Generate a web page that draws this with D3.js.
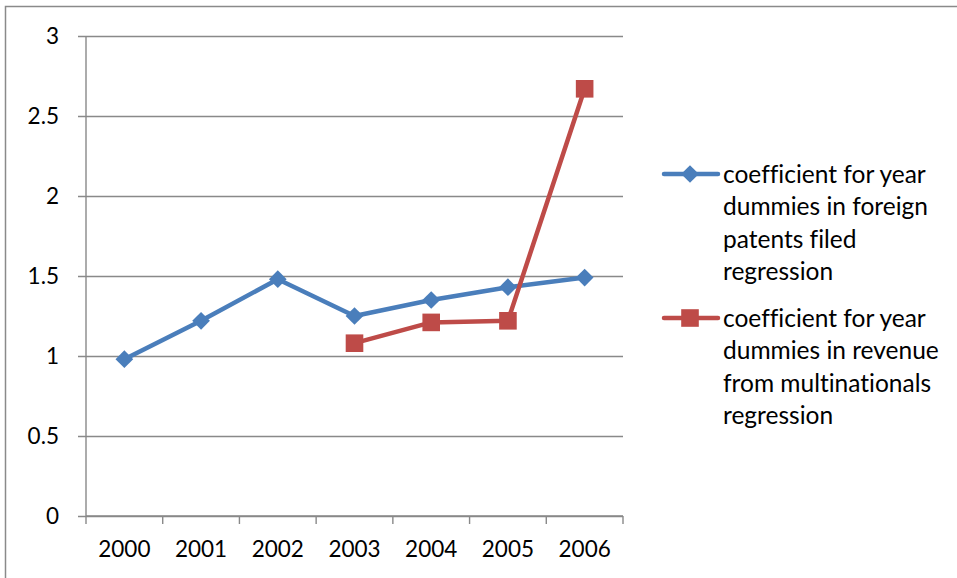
<!DOCTYPE html>
<html>
<head>
<meta charset="utf-8">
<script src="https://cdn.jsdelivr.net/npm/d3@7"></script>
<style>
  html, body { margin: 0; padding: 0; background: #fff; }
  svg { display: block; }
  text { font-family: Lato, "Open Sans", sans-serif; fill: #000; font-variant-ligatures: none; }
</style>
</head>
<body>
<svg id="chart" width="957" height="578"></svg>
<script>
// Year categories on the x axis
const years = ["2000", "2001", "2002", "2003", "2004", "2005", "2006"];
// Coefficients for year dummies, foreign patents filed regression
const patentsCoef = [0.98, 1.22, 1.48, 1.25, 1.35, 1.43, 1.49];
// Coefficients for year dummies, revenue from multinationals regression (starts 2003)
const revenueCoef = [null, null, null, 1.08, 1.21, 1.22, 2.67];
// Y axis ticks
const yTicks = [0, 0.5, 1, 1.5, 2, 2.5, 3];
// Legend labels, wrapped the way they are shown
const seriesNames = [
  ["coefficient for year", "dummies in foreign", "patents filed", "regression"],
  ["coefficient for year", "dummies in revenue", "from multinationals", "regression"]
];

const svg = d3.select("#chart");
const plot = { left: 86, right: 623, top: 36, bottom: 516 };
const gridColor = "#898989";
const blue = "#4a7ebb";
const red = "#be4b48";

// Outer chart frame (top and left edges visible)
svg.append("path")
  .attr("d", `M5.5,578 V6.5 H957`)
  .attr("fill", "none")
  .attr("stroke", "#8a8a8a")
  .attr("stroke-width", 1.5);

const x = d3.scaleBand().domain(years).range([plot.left, plot.right]).padding(0);
const y = d3.scaleLinear().domain([0, 3]).range([plot.bottom, plot.top]);

// Horizontal gridlines and y axis
const yAxis = d3.axisLeft(y)
  .tickValues(yTicks)
  .tickSize(-(plot.right - plot.left))
  .tickPadding(18)
  .tickFormat(d => String(d));
const gy = svg.append("g")
  .attr("transform", `translate(${plot.left},0)`)
  .call(yAxis);
gy.select(".domain").remove();
gy.selectAll(".tick line")
  .attr("x1", -8)
  .attr("stroke", gridColor)
  .attr("stroke-width", 1.4);
gy.selectAll(".tick text")
  .attr("x", -27)
  .attr("dy", "0.34em")
  .style("font-size", "22.5px")
  .style("font-family", "Lato, 'Open Sans', sans-serif")
  .attr("fill", "#000");

// Vertical axis line
svg.append("line")
  .attr("x1", plot.left).attr("x2", plot.left)
  .attr("y1", plot.top).attr("y2", plot.bottom)
  .attr("stroke", gridColor).attr("stroke-width", 1.4);

// X axis with ticks between categories
const gx = svg.append("g")
  .attr("transform", `translate(0,${plot.bottom})`);
gx.append("line")
  .attr("x1", plot.left).attr("x2", plot.right)
  .attr("stroke", gridColor).attr("stroke-width", 1.4);
const boundaries = years.map(d => x(d)).concat([x(years[years.length - 1]) + x.bandwidth()]);
gx.selectAll(".xtick")
  .data(boundaries)
  .join("line")
  .attr("class", "xtick")
  .attr("x1", d => d).attr("x2", d => d)
  .attr("y1", 0).attr("y2", 8)
  .attr("stroke", gridColor).attr("stroke-width", 1.4);
gx.selectAll(".xlabel")
  .data(years)
  .join("text")
  .attr("class", "xlabel")
  .attr("x", d => x(d) + x.bandwidth() / 2)
  .attr("y", 41)
  .attr("text-anchor", "middle")
  .style("font-size", "22.5px")
  .text(d => d);

const cx = (d, i) => x(years[i]) + x.bandwidth() / 2;

// Series lines
const line = d3.line()
  .defined(d => d != null)
  .x((d, i) => cx(d, i))
  .y(d => y(d));

svg.append("path")
  .datum(patentsCoef)
  .attr("d", line)
  .attr("fill", "none")
  .attr("stroke", blue)
  .attr("stroke-width", 4.5)
  .attr("stroke-linejoin", "round")
  .attr("stroke-linecap", "round");

svg.append("path")
  .datum(revenueCoef)
  .attr("d", line)
  .attr("fill", "none")
  .attr("stroke", red)
  .attr("stroke-width", 4.5)
  .attr("stroke-linejoin", "round")
  .attr("stroke-linecap", "round");

const diamond = d3.symbol().type(d3.symbolDiamond2).size(200);
const square = d3.symbol().type(d3.symbolSquare).size(310);

svg.selectAll(".pt-blue")
  .data(patentsCoef.map((v, i) => ({ v, i })).filter(d => d.v != null))
  .join("path")
  .attr("class", "pt-blue")
  .attr("d", diamond)
  .attr("transform", d => `translate(${cx(d.v, d.i)},${y(d.v)})`)
  .attr("fill", blue);

svg.selectAll(".pt-red")
  .data(revenueCoef.map((v, i) => ({ v, i })).filter(d => d.v != null))
  .join("path")
  .attr("class", "pt-red")
  .attr("d", square)
  .attr("transform", d => `translate(${cx(d.v, d.i)},${y(d.v)})`)
  .attr("fill", red);

// Legend
const legend = svg.append("g");
const legendItems = [
  { color: blue, symbol: diamond, lines: seriesNames[0], y0: 174 },
  { color: red, symbol: square, lines: seriesNames[1], y0: 318 }
];
legendItems.forEach(item => {
  const g = legend.append("g");
  g.append("line")
    .attr("x1", 664).attr("x2", 718)
    .attr("y1", item.y0).attr("y2", item.y0)
    .attr("stroke", item.color).attr("stroke-width", 4.5)
    .attr("stroke-linecap", "round");
  g.append("path")
    .attr("d", item.symbol)
    .attr("transform", `translate(690,${item.y0})`)
    .attr("fill", item.color);
  g.selectAll("text")
    .data(item.lines)
    .join("text")
    .attr("x", 723)
    .attr("y", (d, i) => item.y0 + i * 32.5)
    .attr("dy", "0.36em")
    .style("font-size", "24.5px")
    .text(d => d);
});
</script>
</body>
</html>
